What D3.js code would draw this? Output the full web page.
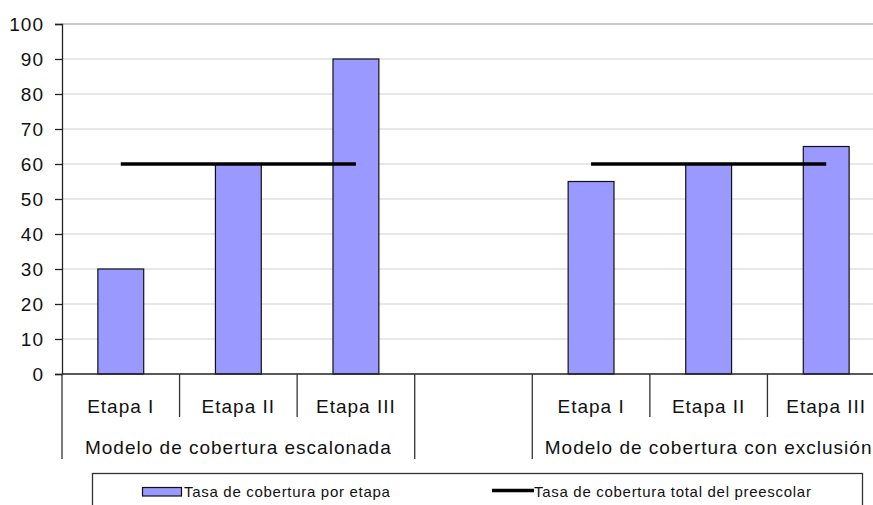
<!DOCTYPE html>
<html>
<head>
<meta charset="utf-8">
<script src="https://cdn.jsdelivr.net/npm/d3@7"></script>
<style>
  html, body { margin: 0; padding: 0; background: #fff; }
  svg { display: block; font-family: "Liberation Sans", Arial, sans-serif; }
</style>
</head>
<body>
<svg id="chart" width="873" height="505"></svg>
<script>
// Coverage rate per stage, grouped by coverage model
const stages = ["Etapa I", "Etapa II", "Etapa III"];
const models = ["Modelo de cobertura escalonada", "", "Modelo de cobertura con exclusión"];
const stageRates = [[30, 60, 90], [], [55, 60, 65]];
const totalRates = [60, null, 60];
const yTicks = [0, 10, 20, 30, 40, 50, 60, 70, 80, 90, 100];
const legendLabels = ["Tasa de cobertura por etapa", "Tasa de cobertura total del preescolar"];

// One slot per stage; the middle model is a single empty slot
const slots = [];
models.forEach((m, gi) => {
  const vals = stageRates[gi];
  if (vals.length === 0) {
    slots.push({ id: gi + "-gap", group: gi, stage: "", value: null });
  } else {
    vals.forEach((v, si) => slots.push({ id: gi + "-" + si, group: gi, stage: stages[si], value: v }));
  }
});

const svg = d3.select("#chart");
const plot = { left: 62, right: 885, top: 24, bottom: 374 };

const x = d3.scaleBand().domain(slots.map(d => d.id)).range([plot.left, plot.right]).padding(0);
const y = d3.scaleLinear().domain([0, 100]).range([plot.bottom, plot.top]);

// Horizontal gridlines
svg.append("g").selectAll("line")
  .data(yTicks.filter(t => t > 0))
  .join("line")
  .attr("x1", plot.left).attr("x2", plot.right)
  .attr("y1", d => y(d)).attr("y2", d => y(d))
  .attr("stroke", d => d === 100 ? "#9a9a9a" : "#d0d0d0")
  .attr("stroke-width", 1.2);

// Y axis
const yAxis = svg.append("g")
  .attr("transform", `translate(${plot.left},0)`)
  .call(d3.axisLeft(y).tickValues(yTicks).tickSize(7).tickPadding(11));
yAxis.select(".domain").attr("stroke", "#222").attr("stroke-width", 1.3);
yAxis.selectAll(".tick line").attr("stroke", "#222").attr("stroke-width", 1.3);
yAxis.selectAll("text")
  .attr("fill", "#111")
  .style("font-size", "19px")
  .style("letter-spacing", "1px")
  .style("font-family", "'Liberation Sans', Arial, sans-serif");

// Bars
const barW = x.bandwidth() * 0.39;
svg.append("g").selectAll("rect")
  .data(slots.filter(d => d.value !== null))
  .join("rect")
  .attr("x", d => x(d.id) + (x.bandwidth() - barW) / 2)
  .attr("y", d => y(d.value))
  .attr("width", barW)
  .attr("height", d => y(0) - y(d.value))
  .attr("fill", "#9999ff")
  .attr("stroke", "#111")
  .attr("stroke-width", 1.2);

// Total preschool coverage line for each model
const lineGen = d3.line().x(d => d[0]).y(d => d[1]);
models.forEach((m, gi) => {
  if (totalRates[gi] === null) return;
  const gs = slots.filter(s => s.group === gi);
  const pts = gs.map(s => [x(s.id) + x.bandwidth() / 2, y(totalRates[gi])]);
  svg.append("path")
    .attr("d", lineGen(pts))
    .attr("fill", "none")
    .attr("stroke", "#000")
    .attr("stroke-width", 3.6);
});

// Category axis baseline
svg.append("line")
  .attr("x1", plot.left).attr("x2", plot.right)
  .attr("y1", y(0)).attr("y2", y(0))
  .attr("stroke", "#222").attr("stroke-width", 1.3);

// Separators: short between stages, long between models
const cat = svg.append("g");
slots.forEach((s, i) => {
  const xl = x(s.id);
  const isGroupStart = i === 0 || slots[i - 1].group !== s.group;
  cat.append("line")
    .attr("x1", xl).attr("x2", xl)
    .attr("y1", y(0)).attr("y2", isGroupStart ? 459 : 417)
    .attr("stroke", "#333").attr("stroke-width", 1.3);
});
cat.append("line")
  .attr("x1", plot.right).attr("x2", plot.right)
  .attr("y1", y(0)).attr("y2", 459)
  .attr("stroke", "#333").attr("stroke-width", 1.3);

// Stage labels
cat.selectAll("text.stage")
  .data(slots.filter(s => s.stage))
  .join("text")
  .attr("class", "stage")
  .attr("x", d => x(d.id) + x.bandwidth() / 2)
  .attr("y", 413)
  .attr("text-anchor", "middle")
  .attr("fill", "#111")
  .style("font-size", "19px")
  .style("letter-spacing", "1px")
  .text(d => d.stage);

// Model labels
models.forEach((m, gi) => {
  if (!m) return;
  const gs = slots.filter(s => s.group === gi);
  const x0 = x(gs[0].id), x1 = x(gs[gs.length - 1].id) + x.bandwidth();
  cat.append("text")
    .attr("x", (x0 + x1) / 2)
    .attr("y", 454)
    .attr("text-anchor", "middle")
    .attr("fill", "#111")
    .style("font-size", "19px")
    .style("letter-spacing", "1px")
    .text(m);
});

// Legend
const lg = svg.append("g");
lg.append("rect")
  .attr("x", 92.5).attr("y", 473.5)
  .attr("width", 770).attr("height", 60)
  .attr("fill", "#fff").attr("stroke", "#333").attr("stroke-width", 1.3);
lg.append("rect")
  .attr("x", 142.5).attr("y", 487.5)
  .attr("width", 39).attr("height", 8.5)
  .attr("fill", "#9999ff").attr("stroke", "#111").attr("stroke-width", 1.2);
lg.append("text")
  .attr("x", 184).attr("y", 496.5)
  .attr("fill", "#111")
  .style("font-size", "15px").style("letter-spacing", "0.7px")
  .text(legendLabels[0]);
lg.append("line")
  .attr("x1", 492).attr("x2", 534)
  .attr("y1", 490.5).attr("y2", 490.5)
  .attr("stroke", "#000").attr("stroke-width", 3.6);
lg.append("text")
  .attr("x", 534).attr("y", 496.5)
  .attr("fill", "#111")
  .style("font-size", "15px").style("letter-spacing", "0.7px")
  .text(legendLabels[1]);
</script>
</body>
</html>
